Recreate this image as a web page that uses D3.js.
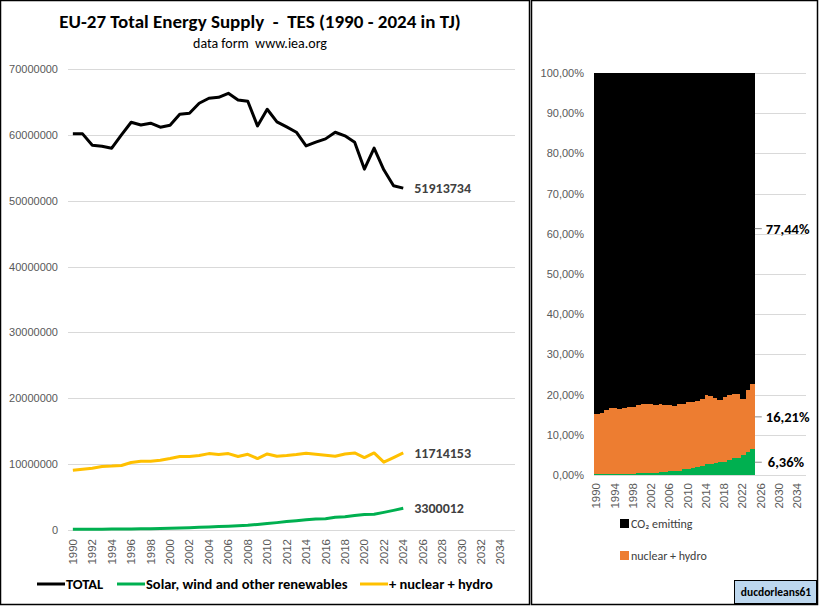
<!DOCTYPE html>
<html>
<head>
<meta charset="utf-8">
<script src="https://cdn.jsdelivr.net/npm/d3@7"></script>
<style>
  body { margin: 0; background: #fff; }
  svg { display: block; font-family: Carlito, Lato, "Open Sans", sans-serif; }
</style>
</head>
<body>
<div id="chart"></div>
<script>
// values (TJ)
const years = d3.range(1990, 2036);
const dataYears = d3.range(1990, 2025);
const total = [60150000, 60150000, 58430000, 58280000, 57980000, 60000000, 61920000, 61500000, 61770000, 61160000,
  61460000, 63130000, 63280000, 64800000, 65560000, 65700000, 66310000, 65300000, 65100000, 61360000,
  63890000, 61970000, 61200000, 60400000, 58330000, 58890000, 59390000, 60400000, 59850000, 58890000,
  54800000, 57980000, 54700000, 52270000, 51913734];
const renewables = [120000, 120000, 130000, 130000, 140000, 150000, 160000, 180000, 200000, 230000,
  280000, 320000, 360000, 400000, 460000, 520000, 580000, 660000, 720000, 840000,
  980000, 1120000, 1280000, 1420000, 1550000, 1680000, 1720000, 1950000, 2000000, 2200000,
  2370000, 2400000, 2680000, 2980000, 3300012];
// renewables + nuclear + hydro
const lowCarbon = [9090000, 9240000, 9390000, 9650000, 9700000, 9800000, 10250000, 10450000, 10450000, 10600000,
  10860000, 11160000, 11160000, 11300000, 11600000, 11460000, 11600000, 11160000, 11500000, 10850000,
  11550000, 11200000, 11300000, 11450000, 11650000, 11500000, 11350000, 11200000, 11550000, 11700000,
  11000000, 11700000, 10300000, 11000000, 11714153];
const leftTicks = [0, 10000000, 20000000, 30000000, 40000000, 50000000, 60000000, 70000000];
const rightTicks = [0, 0.1, 0.2, 0.3, 0.4, 0.5, 0.6, 0.7, 0.8, 0.9, 1];

const W = 820, H = 606;
const svg = d3.select('#chart').append('svg').attr('width', W).attr('height', H);

// panel frames
svg.append('rect').attr('x', 0.5).attr('y', 0.5).attr('width', 529).attr('height', 604)
  .attr('fill', 'none').attr('stroke', '#000').attr('stroke-width', 1.5);
svg.append('rect').attr('x', 531.5).attr('y', 0.5).attr('width', 286).attr('height', 604)
  .attr('fill', 'none').attr('stroke', '#000').attr('stroke-width', 1.5);

// ---------- left chart ----------
svg.append('text').attr('x', 260).attr('y', 28).attr('text-anchor', 'middle')
  .attr('font-size', 19).attr('font-weight', 'bold').attr('fill', '#000')
  .style('white-space', 'pre')
  .text('EU-27 Total Energy Supply  -  TES (1990 - 2024 in TJ)');
svg.append('text').attr('x', 260).attr('y', 48).attr('text-anchor', 'middle')
  .attr('font-size', 14).attr('fill', '#000').style('white-space', 'pre')
  .text('data form  www.iea.org');

const x = d3.scaleBand().domain(years).range([68, 515]).padding(0);
const y = d3.scaleLinear().domain([0, 70000000]).range([530, 69]);
const cx = yr => x(yr) + x.bandwidth() / 2;

svg.append('g').selectAll('line').data(leftTicks).join('line')
  .attr('x1', 68).attr('x2', 515)
  .attr('y1', d => Math.round(y(d)) + 0.5).attr('y2', d => Math.round(y(d)) + 0.5)
  .attr('stroke', '#d9d9d9');

const yAxis = svg.append('g').attr('transform', 'translate(62,0)')
  .call(d3.axisLeft(y).tickValues(leftTicks).tickFormat(d3.format('d')).tickSize(0).tickPadding(4));
yAxis.select('.domain').remove();
yAxis.selectAll('text').attr('font-size', 11).attr('fill', '#595959').attr('font-family', null);

const xAxis = svg.append('g').attr('transform', 'translate(0,530)')
  .call(d3.axisBottom(x).tickValues(years.filter(d => d % 2 === 0)).tickSize(0));
xAxis.select('.domain').remove();
xAxis.selectAll('text').attr('font-size', 11.5).attr('fill', '#595959').attr('font-family', null)
  .attr('transform', 'rotate(-90)').attr('text-anchor', 'end')
  .attr('x', -9).attr('y', 0).attr('dy', '0.35em');

const series = [
  { name: 'TOTAL', values: total, color: '#000000' },
  { name: 'Solar, wind and other renewables', values: renewables, color: '#00b050' },
  { name: '+ nuclear + hydro', values: lowCarbon, color: '#ffc000' }
];
const line = d3.line().x((d, i) => cx(dataYears[i])).y(d => y(d));
svg.append('g').selectAll('path').data(series).join('path')
  .attr('d', d => line(d.values))
  .attr('fill', 'none').attr('stroke', d => d.color).attr('stroke-width', 3)
  .attr('stroke-linejoin', 'round');

svg.append('g').selectAll('text').data(series).join('text')
  .attr('x', cx(2024) + 11).attr('y', d => y(d.values[d.values.length - 1]) + 5)
  .attr('font-size', 14).attr('font-weight', 'bold').attr('fill', '#404040')
  .text(d => d.values[d.values.length - 1]);

// legend
const legX = [37, 117, 360];
const leg = svg.append('g').selectAll('g').data(series).join('g')
  .attr('transform', (d, i) => `translate(${legX[i]},584)`);
leg.append('line').attr('x1', 0).attr('x2', 28).attr('stroke', d => d.color).attr('stroke-width', 3);
leg.append('text').attr('x', 29).attr('y', 5).attr('font-size', 14.5).attr('font-weight', 'bold')
  .attr('fill', '#000').text(d => d.name);

// ---------- right chart ----------
const xr = d3.scaleBand().domain(years).range([594, 804]).padding(0);
const yr = d3.scaleLinear().domain([0, 1]).range([475, 73]);
const pct = d => d3.format('.2f')(d * 100).replace('.', ',') + '%';

svg.append('g').selectAll('line').data(rightTicks).join('line')
  .attr('x1', 594).attr('x2', 806)
  .attr('y1', d => Math.round(yr(d)) + 0.5).attr('y2', d => Math.round(yr(d)) + 0.5)
  .attr('stroke', '#d9d9d9');

const shares = dataYears.map((yy, i) => ({
  year: yy,
  green: renewables[i] / total[i],
  orange: (lowCarbon[i] - renewables[i]) / total[i],
  black: 1 - lowCarbon[i] / total[i]
}));
const stack = d3.stack().keys(['green', 'orange', 'black'])(shares);
const fills = { green: '#00b050', orange: '#ed7d31', black: '#000000' };
svg.append('g').attr('shape-rendering', 'crispEdges')
  .selectAll('g').data(stack).join('g').attr('fill', d => fills[d.key])
  .selectAll('rect').data(d => d).join('rect')
  .attr('x', d => xr(d.data.year)).attr('width', xr.bandwidth() + 1)
  .attr('y', d => yr(d[1])).attr('height', d => yr(d[0]) - yr(d[1]));

const ryAxis = svg.append('g').attr('transform', 'translate(588,0)')
  .call(d3.axisLeft(yr).tickValues(rightTicks).tickFormat(pct).tickSize(0).tickPadding(4));
ryAxis.select('.domain').remove();
ryAxis.selectAll('text').attr('font-size', 11).attr('fill', '#595959').attr('font-family', null);

const rxAxis = svg.append('g').attr('transform', 'translate(0,475)')
  .call(d3.axisBottom(xr).tickValues(years.filter(d => (d - 1990) % 4 === 0)).tickSize(0));
rxAxis.select('.domain').remove();
rxAxis.selectAll('text').attr('font-size', 11.5).attr('fill', '#595959').attr('font-family', null)
  .attr('transform', 'rotate(-90)').attr('text-anchor', 'end')
  .attr('x', -8).attr('y', 0).attr('dy', '0.35em');

// labels on the last bar
const last = stack.map(s => ({ key: s.key, v: s[s.length - 1] }));
const lbl = svg.append('g').selectAll('g').data(last).join('g')
  .attr('transform', d => `translate(${xr(2024) + xr.bandwidth()},${yr((d.v[0] + d.v[1]) / 2)})`);
lbl.append('line').attr('x1', 1).attr('x2', 8).attr('stroke', '#8c8c8c').attr('stroke-width', 1);
lbl.append('text').attr('x', d => d.key === 'green' ? 14 : 12).attr('y', 5)
  .attr('font-size', 14.5).attr('font-weight', 'bold').attr('fill', '#000')
  .text(d => pct(d.v[1] - d.v[0]));

// right legend
const rleg = [{ t: 'CO₂ emitting', c: '#000000' }, { t: 'nuclear + hydro', c: '#ed7d31' }];
const rl = svg.append('g').selectAll('g').data(rleg).join('g')
  .attr('transform', (d, i) => `translate(620,${524 + i * 32})`);
rl.append('rect').attr('x', 0).attr('y', -5).attr('width', 9).attr('height', 9).attr('fill', d => d.c);
rl.append('text').attr('x', 11).attr('y', 4).attr('font-size', 12).attr('fill', '#404040').text(d => d.t);

// signature box
svg.append('rect').attr('x', 734.5).attr('y', 580.5).attr('width', 82).attr('height', 23)
  .attr('fill', '#bdd7ee').attr('stroke', '#000').attr('stroke-width', 1);
svg.append('text').attr('x', 776).attr('y', 596).attr('text-anchor', 'middle')
  .attr('font-size', 11.5).attr('font-weight', 'bold').attr('fill', '#000').text('ducdorleans61');
</script>
</body>
</html>
